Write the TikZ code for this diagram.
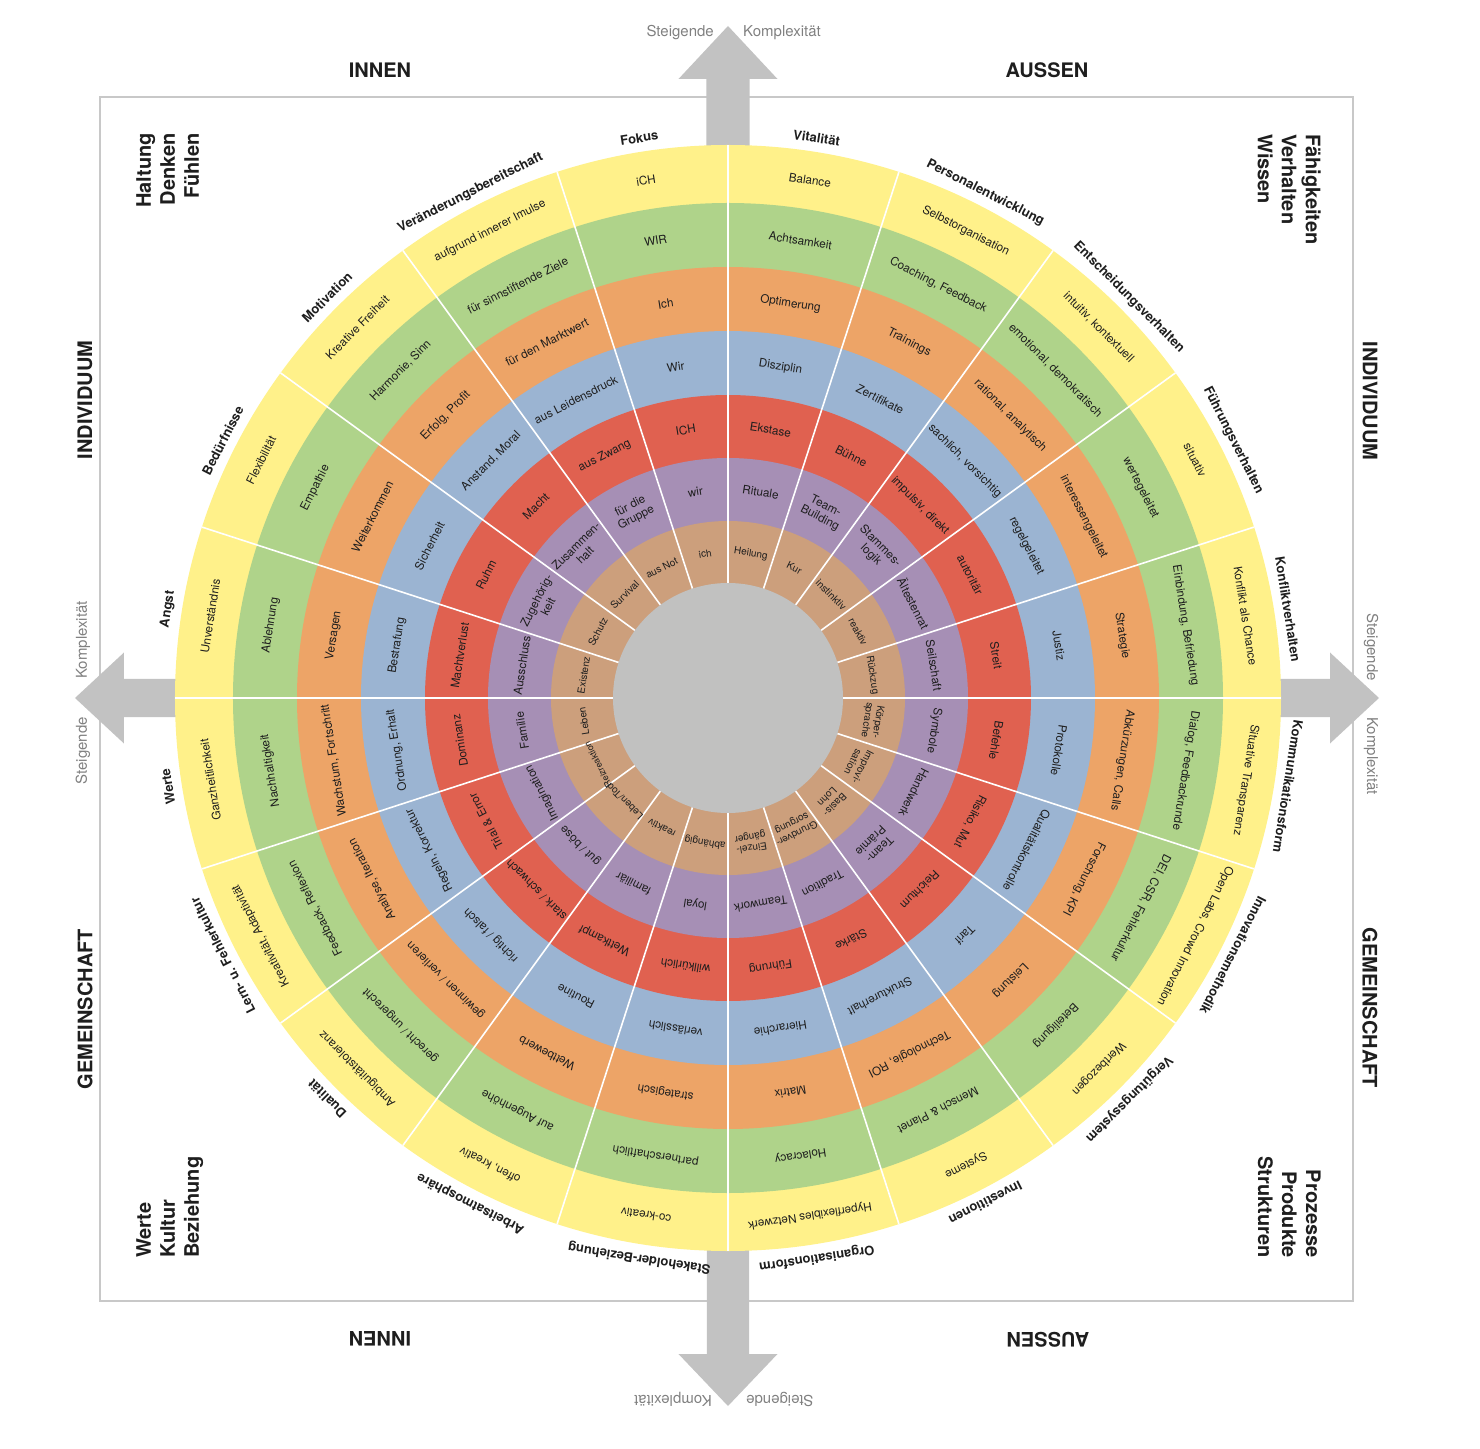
\documentclass[tikz,border=0pt]{standalone}
\usepackage{fontspec}
\setmainfont{TeX Gyre Heros}
\definecolor{cyel}{HTML}{FFF18A}
\definecolor{cgrn}{HTML}{AFD38A}
\definecolor{corg}{HTML}{EDA467}
\definecolor{cblu}{HTML}{9BB4D2}
\definecolor{cred}{HTML}{E06150}
\definecolor{cpur}{HTML}{A68FB5}
\definecolor{ctan}{HTML}{CC9F7C}
\definecolor{cgray}{HTML}{C1C1C0}
\definecolor{carrow}{HTML}{C2C2C2}
\definecolor{cframe}{HTML}{C8C8C8}
\definecolor{ctxt}{HTML}{1E1E1E}
\definecolor{cgtxt}{HTML}{808080}
\newcommand\wheelsector[9]{%
  \node[lbl,rotate=#1-90] (L#1) at (#1:567) {#2};
  \node[ringtxt,rotate=#1-90] (Y#1) at (#1:524) {#3};
  \node[ringtxt,rotate=#1-90] (G#1) at (#1:463) {#4};
  \node[ringtxt,rotate=#1-90] (O#1) at (#1:399) {#5};
  \node[ringtxt,rotate=#1-90] (B#1) at (#1:335) {#6};
  \node[ringtxt,rotate=#1-90] (R#1) at (#1:271.5) {#7};
  \node[ringtxt,rotate=#1-90] (P#1) at (#1:208.5) {#8};
  \node[tantxt,rotate=#1-90] (T#1) at (#1:146) {#9};
}
\begin{document}
\begin{tikzpicture}[x=1pt,y=1pt,
  ringtxt/.style={inner sep=0pt, align=center, font=\fontsize{11.7}{13}\selectfont, text=ctxt},
  tantxt/.style={inner sep=0pt, align=center, font=\fontsize{10}{11}\selectfont, text=ctxt},
  lbl/.style={inner sep=0pt, font=\fontsize{13}{14}\selectfont\bfseries, text=ctxt},
  corner/.style={inner sep=0pt, font=\fontsize{20}{24}\selectfont\bfseries, text=ctxt},
  side/.style={inner sep=0pt, font=\fontsize{20}{24}\selectfont\bfseries, text=ctxt},
  gtxt/.style={inner sep=0pt, font=\fontsize{15}{17}\selectfont, text=cgtxt},
  arrowshape/.style={fill=carrow, draw=none}]
\useasboundingbox (-728,-750) rectangle (752,698);
% frame
\draw[cframe, line width=1.5] (-628,601) rectangle (625,-603);
% arrows
\fill[arrowshape] (-21.5,480) -- (-21.5,619) -- (-49.5,619) -- (0,672) -- (49.5,619) -- (21.5,619) -- (21.5,480) -- cycle;
\fill[arrowshape] (-21,-480) -- (-21,-656) -- (-49.5,-656) -- (0,-708) -- (49.5,-656) -- (21,-656) -- (21,-480) -- cycle;
\fill[arrowshape] (-480,19) -- (-604,19) -- (-604,45.5) -- (-653,0) -- (-604,-45.5) -- (-604,-19) -- (-480,-19) -- cycle;
\fill[arrowshape] (480,19) -- (602,19) -- (602,45.5) -- (651,0) -- (602,-45.5) -- (602,-19) -- (480,-19) -- cycle;
% rings
\fill[cyel] (0,0) circle (553);
\fill[cgrn] (0,0) circle (495);
\fill[corg] (0,0) circle (431);
\fill[cblu] (0,0) circle (367);
\fill[cred] (0,0) circle (303);
\fill[cpur] (0,0) circle (240);
\fill[ctan] (0,0) circle (177);
\foreach \a in {0,18,...,342} \draw[white, line width=1.6] (\a:115) -- (\a:553);
\fill[cgray] (0,0) circle (115);
% sectors
\wheelsector{81}{Vitalität}{Balance}{Achtsamkeit}{Optimerung}{Disziplin}{Ekstase}{Rituale}{Heilung}
\wheelsector{63}{Personalentwicklung}{Selbstorganisation}{Coaching, Feedback}{Trainings}{Zertifikate}{Bühne}{Team-\\Building}{Kur}
\wheelsector{45}{Entscheidungsverhalten}{intuitiv, kontextuell}{emotional, demokratisch}{rational, analytisch}{sachlich, vorsichtig}{impulsiv, direkt}{Stammes-\\logik}{instinktiv}
\wheelsector{27}{Führungsverhalten}{situativ}{wertegeleitet}{interessengeleitet}{regelgeleitet}{autoritär}{Ältestenrat}{reaktiv}
\wheelsector{9}{Konfliktverhalten}{Konflikt als Chance}{Einbindung, Befriedung}{Strategie}{Justiz}{Streit}{Seilschaft}{Rückzug}
\wheelsector{-9}{Kommunikationsform}{Situative Transparenz}{Dialog, Feedbackrunde}{Abkürzungen, Calls}{Protokolle}{Befehle}{Symbole}{Körper-\\sprache}
\wheelsector{-27}{Innovationsmethodik}{Open Labs, Crowd Innovation}{DEI, CSR, Fehlerkultur}{Forschung, KPI}{Qualitätskontrolle}{Risiko, Mut}{Handwerk}{Improvi-\\sation}
\wheelsector{-45}{Vergütungssystem}{Wertbezogen}{Beteiligung}{Leistung}{Tarif}{Reichtum}{Team-\\Prämie}{Basis-\\Lohn}
\wheelsector{-63}{Investitionen}{Systeme}{Mensch \& Planet}{Technologie, ROI}{Strukturerhalt}{Stärke}{Tradition}{Grundver-\\sorgung}
\wheelsector{-81}{Organisationsform}{Hyperflexibles Netzwerk}{Holacracy}{Matrix}{Hierarchie}{Führung}{Teamwork}{Einzel-\\gänger}
\wheelsector{-99}{Stakeholder-Beziehung}{co-kreativ}{partnerschaftlich}{strategisch}{verlässlich}{willkürlich}{loyal}{abhängig}
\wheelsector{-117}{Arbeitsatmosphäre}{offen, kreativ}{auf Augenhöhe}{Wettbewerb}{Routine}{Wettkampf}{familiär}{reaktiv}
\wheelsector{-135}{Dualität}{Ambiguitätstoleranz}{gerecht / ungerecht}{gewinnen / verlieren}{richtig / falsch}{stark / schwach}{gut / böse}{Leben/Tod}
\wheelsector{-153}{Lern- u. Fehlerkultur}{Kreativität, Adaptivität}{Feedback, Reflexion}{Analyse, Iteration}{Regeln, Korrektur}{Trial \& Error}{Imagination}{{\fontsize{9}{10}\selectfont Reizreaktion}}
\wheelsector{-171}{Werte}{Ganzheitlichkeit}{Nachhaltigkeit}{Wachstum, Fortschritt}{Ordnung, Erhalt}{Dominanz}{Familie}{Leben}
\wheelsector{171}{Angst}{Unverständnis}{Ablehnung}{Versagen}{Bestrafung}{Machtverlust}{Ausschluss}{Existenz}
\wheelsector{153}{Bedürfnisse}{Flexibilität}{Empathie}{Weiterkommen}{Sicherheit}{Ruhm}{Zugehörig-\\keit}{Schutz}
\wheelsector{135}{Motivation}{Kreative Freiheit}{Harmonie, Sinn}{Erfolg, Profit}{Anstand, Moral}{Macht}{Zusammen-\\halt}{Survival}
\wheelsector{117}{Veränderungsbereitschaft}{aufgrund innerer Imulse}{für sinnstiftende Ziele}{für den Marktwert}{aus Leidensdruck}{aus Zwang}{für die\\Gruppe}{aus Not}
\wheelsector{99}{Fokus}{iCH}{WIR}{Ich}{Wir}{ICH}{wir}{ich}
% corner texts
\node[corner, rotate=90, anchor=north east, align=right] (c1) at (-592,565) {Haltung\\Denken\\Fühlen};
\node[corner, rotate=-90, anchor=north west, align=left] (c2) at (593,564) {Fähigkeiten\\Verhalten\\Wissen};
\node[corner, rotate=90, anchor=north west, align=left] (c3) at (-592,-560) {Werte\\Kultur\\Beziehung};
\node[corner, rotate=-90, anchor=north east, align=right] (c4) at (593,-560) {Prozesse\\Produkte\\Strukturen};
% side labels
\node[side, rotate=90] (ind1) at (-643,298) {INDIVIDUUM};
\node[side, rotate=-90] (ind2) at (642,297) {INDIVIDUUM};
\node[side, rotate=90] (gem1) at (-643,-311) {GEMEINSCHAFT};
\node[side, rotate=-90] (gem2) at (642,-310) {GEMEINSCHAFT};
\node[side] (in1) at (-348,628) {INNEN};
\node[side] (au1) at (319,628) {AUSSEN};
\node[side, rotate=180] (in2) at (-348,-641) {INNEN};
\node[side, rotate=180] (au2) at (320,-642) {AUSSEN};
% arrow labels
\node[gtxt, anchor=base east] (s1) at (-14,661) {Steigende};
\node[gtxt, anchor=base west] (k1) at (15,661) {Komplexität};
\node[gtxt, rotate=-90, anchor=base east] (s2) at (639,17) {Steigende};
\node[gtxt, rotate=-90, anchor=base west] (k2) at (639,-19) {Komplexität};
\node[gtxt, rotate=90, anchor=base east] (s3) at (-641,-19) {Steigende};
\node[gtxt, rotate=90, anchor=base west] (k3) at (-641,19) {Komplexität};
\node[gtxt, rotate=180, anchor=base east] (s4) at (18,-697.6) {Steigende};
\node[gtxt, rotate=180, anchor=base west] (k4) at (-16,-697.6) {Komplexität};
\end{tikzpicture}
\end{document}
